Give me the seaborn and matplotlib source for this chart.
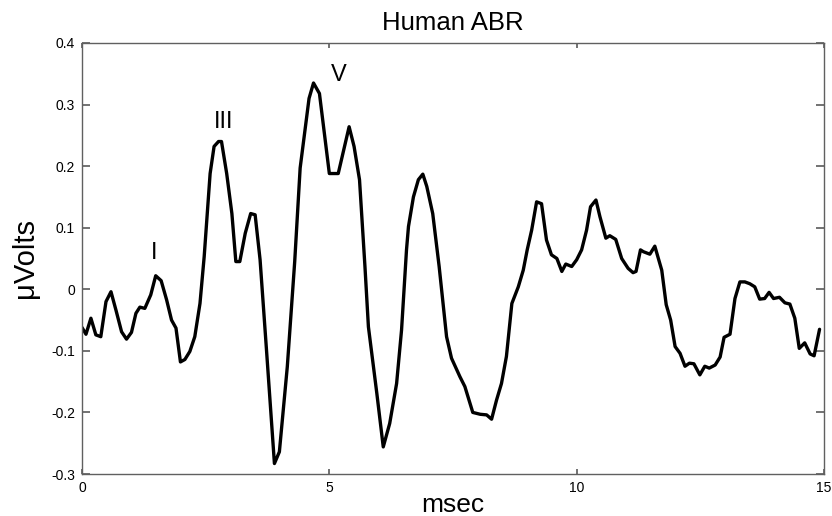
import matplotlib
matplotlib.use("Agg")
import matplotlib.pyplot as plt
import seaborn as sns
import pandas as pd

# ---- data ----
time_ms = [0.00, 0.08, 0.18, 0.28, 0.38, 0.485, 0.586, 0.687, 0.80, 0.90,
           1.00, 1.09, 1.17, 1.27, 1.39, 1.49, 1.60, 1.71, 1.81, 1.90,
           1.99, 2.08, 2.18, 2.28, 2.385, 2.47, 2.59, 2.67, 2.76, 2.82,
           2.925, 3.03, 3.11, 3.19, 3.30, 3.41, 3.50, 3.60, 3.73, 3.89,
           3.99, 4.15, 4.30, 4.41, 4.59, 4.68, 4.80, 5.00, 5.18, 5.40,
           5.50, 5.61, 5.72, 5.79, 5.96, 6.09, 6.22, 6.36, 6.46, 6.56,
           6.60, 6.70, 6.80, 6.89, 6.97, 7.09, 7.22, 7.30, 7.37, 7.47,
           7.64, 7.74, 7.90, 8.05, 8.18, 8.28, 8.38, 8.48, 8.58, 8.69,
           8.82, 8.92, 9.00, 9.09, 9.19, 9.29, 9.39, 9.49, 9.60, 9.70,
           9.78, 9.90, 10.00, 10.10, 10.20, 10.28, 10.39, 10.47, 10.59, 10.67,
           10.79, 10.91, 11.04, 11.14, 11.20, 11.29, 11.35, 11.48, 11.58, 11.72,
           11.81, 11.90, 11.99, 12.09, 12.19, 12.28, 12.37, 12.49, 12.59, 12.68,
           12.80, 12.90, 12.98, 13.10, 13.20, 13.30, 13.40, 13.50, 13.60, 13.70,
           13.80, 13.89, 13.98, 14.10, 14.21, 14.31, 14.41, 14.50, 14.61, 14.72,
           14.80, 14.91]
microvolts = [-0.062, -0.073, -0.047, -0.074, -0.077, -0.020, -0.004, -0.034, -0.069, -0.081,
              -0.070, -0.039, -0.029, -0.031, -0.009, 0.022, 0.014, -0.017, -0.050, -0.063,
              -0.118, -0.114, -0.101, -0.077, -0.023, 0.053, 0.188, 0.232, 0.240, 0.240,
              0.188, 0.123, 0.045, 0.045, 0.091, 0.123, 0.121, 0.048, -0.099, -0.283,
              -0.264, -0.126, 0.045, 0.197, 0.310, 0.335, 0.318, 0.188, 0.188, 0.264,
              0.232, 0.178, 0.037, -0.061, -0.169, -0.256, -0.218, -0.153, -0.066, 0.064,
              0.102, 0.150, 0.178, 0.187, 0.167, 0.123, 0.037, -0.023, -0.077, -0.112,
              -0.142, -0.158, -0.200, -0.203, -0.204, -0.211, -0.180, -0.153, -0.109, -0.023,
              0.004, 0.031, 0.064, 0.096, 0.142, 0.139, 0.080, 0.056, 0.050, 0.029,
              0.041, 0.037, 0.048, 0.064, 0.096, 0.134, 0.145, 0.118, 0.083, 0.087,
              0.081, 0.050, 0.034, 0.027, 0.029, 0.064, 0.061, 0.057, 0.070, 0.031,
              -0.025, -0.050, -0.093, -0.104, -0.125, -0.120, -0.121, -0.139, -0.125, -0.128,
              -0.123, -0.110, -0.078, -0.073, -0.015, 0.012, 0.012, 0.009, 0.004, -0.016,
              -0.015, -0.005, -0.015, -0.013, -0.022, -0.024, -0.047, -0.096, -0.087, -0.105,
              -0.108, -0.065]

wave_labels = ["I", "III", "V"]
wave_label_x = [1.455, 2.857, 5.20]
wave_label_y = [0.0487, 0.2615, 0.3383]

x_ticks = [0, 5, 10, 15]
y_ticks = [-0.3, -0.2, -0.1, 0, 0.1, 0.2, 0.3, 0.4]
y_tick_labels = ["-0.3", "-0.2", "-0.1", "0", "0.1", "0.2", "0.3", "0.4"]

# ---- style ----
sns.set_theme(style="white")
plt.rcParams["font.family"] = ["Liberation Sans", "DejaVu Sans"]

df = pd.DataFrame({"msec": time_ms, "uV": microvolts})

fig = plt.figure(figsize=(8.32, 5.16), dpi=100)
ax = fig.add_axes([82 / 832, 1 - 474 / 516, (824 - 82) / 832, (474 - 43) / 516])

sns.lineplot(data=df, x="msec", y="uV", ax=ax, color="black", linewidth=2.4,
             sort=False, estimator=None)

ax.set_xlim(0, 15)
ax.set_ylim(-0.3, 0.4)
ax.set_xticks(x_ticks)
ax.set_xticklabels([str(t) for t in x_ticks])
ax.set_yticks(y_ticks)
ax.set_yticklabels(y_tick_labels)

axis_color = "#606060"
for sp in ax.spines.values():
    sp.set_visible(True)
    sp.set_color(axis_color)
    sp.set_linewidth(1.0)

ax.tick_params(axis="both", which="both", direction="in", colors=axis_color,
               labelcolor="black", labelsize=10, top=True, right=True,
               bottom=True, left=True)
ax.tick_params(axis="y", length=5.8, pad=5)
ax.tick_params(axis="x", length=3.6, pad=5)

ax.set_title("Human ABR", fontsize=18.5, pad=9.4, color="black")
ax.set_xlabel("msec", fontsize=19, labelpad=-1.5, color="black")
ax.set_ylabel("\u03bcVolts", fontsize=21, labelpad=9, color="black")

for lab, lx, ly in zip(wave_labels, wave_label_x, wave_label_y):
    ax.text(lx, ly, lab, ha="center", va="baseline", fontsize=17, color="black")

fig.savefig("out.png", dpi=100)
